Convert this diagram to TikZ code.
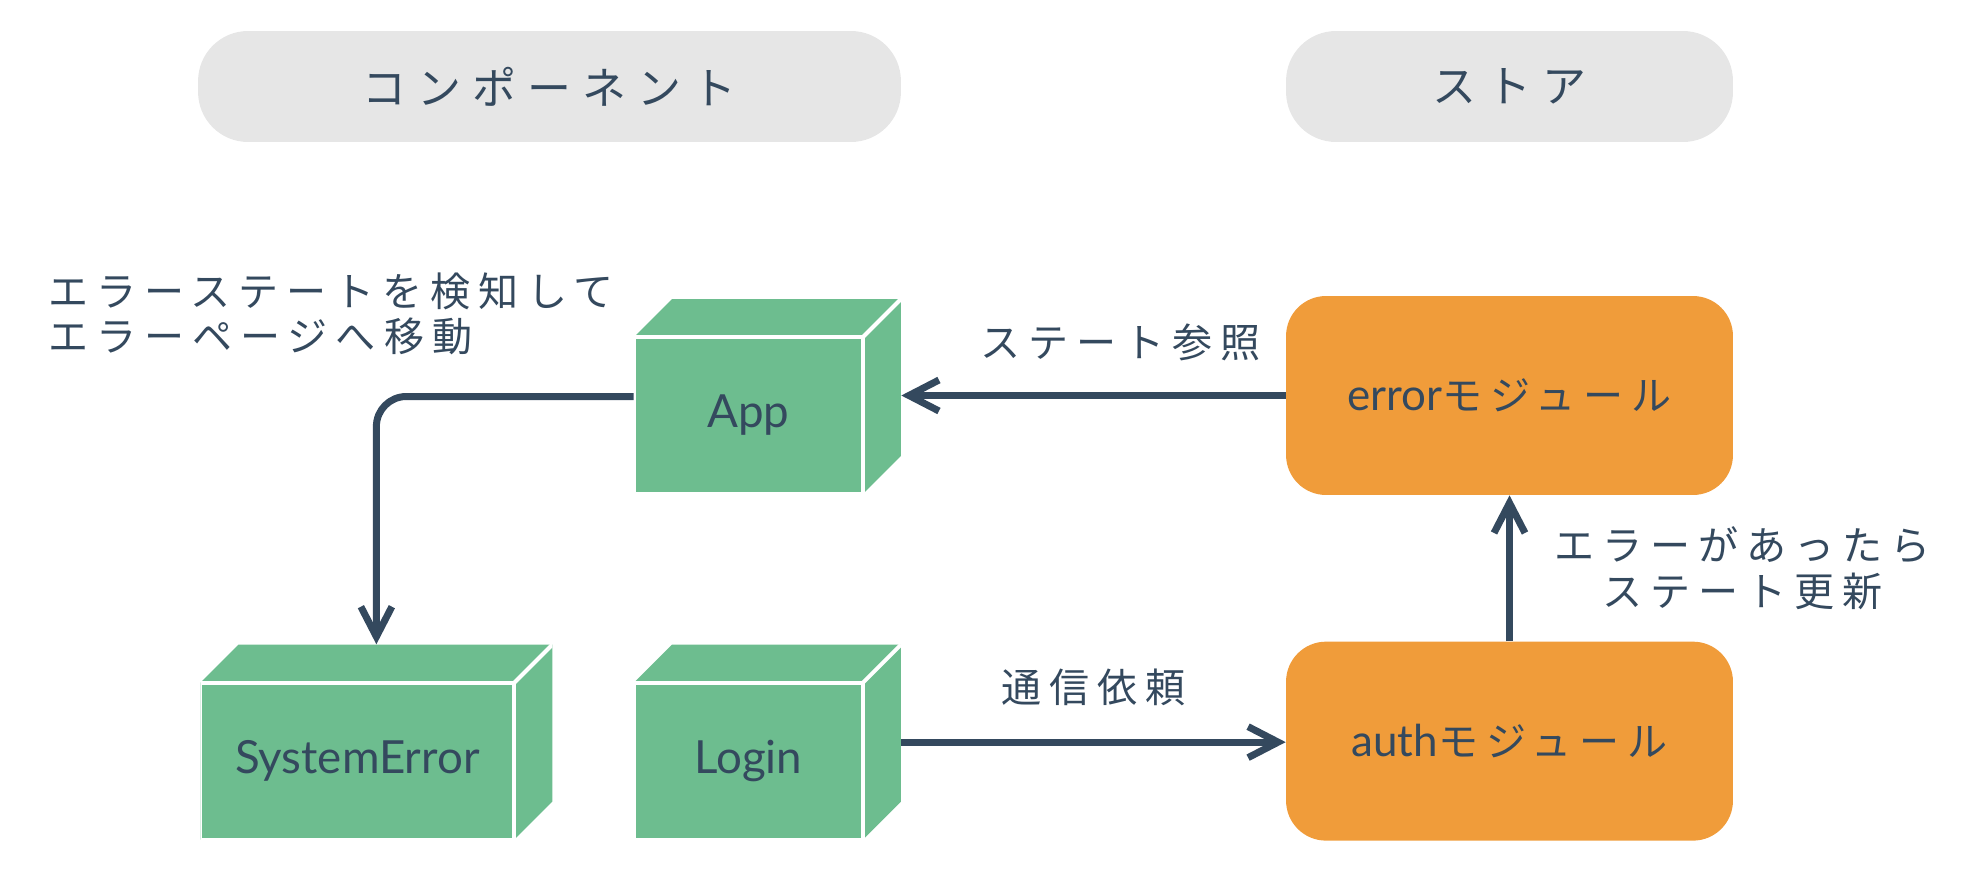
\documentclass[tikz,border=0pt]{standalone}
\usepackage{fontspec}
\setmainfont{Lato}
\newfontfamily\jp[LetterSpace=20]{Noto Sans CJK JP}
\newfontfamily\jpwide[LetterSpace=25]{Noto Sans CJK JP}
\newcommand{\mojp}[1]{{\jp\fontsize{22.8}{26}\selectfont #1}}
\usetikzlibrary{arrows.meta}
\usetikzlibrary{positioning}
\definecolor{ink}{HTML}{34495E}
\definecolor{pillgray}{HTML}{E6E6E6}
\definecolor{cubegreen}{HTML}{6DBD8F}
\definecolor{modorange}{HTML}{F09C3A}
\tikzstyle{arrow} = [line width=0.14cm, draw=ink, -{Straight Barb[length=0.6cm,width=0.62cm]}]
\tikzstyle{pill} = [
    rectangle, rounded corners=1cm, minimum height=2.22cm,
    fill=pillgray, text=ink, font=\jpwide\fontsize{25}{30}\selectfont]
\tikzstyle{module} = [
    rectangle, rounded corners=0.8cm, minimum width=8.94cm, minimum height=3.98cm,
    fill=modorange, text=ink, font=\fontsize{25}{30}\selectfont]
\tikzstyle{cube} = [
    rectangle, minimum width=5.34cm, minimum height=3.9cm, inner sep=0pt, fill=white,
    path picture={
    \fill[cubegreen] ([yshift=-0.76cm]path picture bounding box.north west)
        -- ([xshift=0.76cm]path picture bounding box.north west)
        -- (path picture bounding box.north east)
        -- ([yshift=0.76cm]path picture bounding box.south east)
        -- ([xshift=-0.76cm]path picture bounding box.south east)
        -- (path picture bounding box.south west) -- cycle;
    \draw[white, line width=0.08cm] ([yshift=-0.76cm]path picture bounding box.north west)
        rectangle ([xshift=-0.76cm]path picture bounding box.south east);
    \draw[white, line width=0.08cm] ([xshift=-0.76cm,yshift=-0.76cm]path picture bounding box.north east)
        -- (path picture bounding box.north east);
    }]
\tikzstyle{cubetext} = [shift={(-0.38cm,-0.38cm)}, text=ink, font=\fontsize{26}{30}\selectfont]
\tikzstyle{note} = [text=ink, font=\jp\fontsize{22.8}{26}\selectfont, inner sep=0pt]

\begin{document}
\begin{tikzpicture}[x=0.02cm, y=-0.02cm]
\useasboundingbox (0,0) rectangle (1970,876);

\node (comp) [pill, minimum width=14.06cm] at (549.5,86.5) {コンポーネント};
\node (store) [pill, minimum width=8.94cm] at (1509.5,86.5) {ストア};

\node (app) [cube, label={[cubetext]center:App}] at (767.5,396.5) {};
\node (login) [cube, label={[cubetext]center:Login}, below=3cm of app] {};
\node (syserr) [cube, minimum width=7.04cm, label={[cubetext]center:SystemError}, left=1.62cm of login] {};

\node (errmod) [module] at (1509.5,395.5) {error\mojp{モジュール}};
\node (authmod) [module, below=2.92cm of errmod] {auth\mojp{モジュール}};

\node (detect) [note, align=left, anchor=west] at (48,314) {
    エラーステートを検知して\\
    エラーページへ移動
};

\draw [arrow] (errmod.west) -- node[note, above=0.62cm, pos=0.43] {ステート参照} (errmod.west -| app.east);
\draw [arrow, rounded corners=0.6cm] (app.west) -| (syserr.north);
\draw [arrow] (login.east) -- node[note, above=0.65cm] {通信依頼} (login.east -| authmod.west);
\draw [arrow] (authmod.north) -- node[note, right=0.82cm, align=center] {エラーがあったら\\ステート更新} (errmod.south);
\end{tikzpicture}
\end{document}
